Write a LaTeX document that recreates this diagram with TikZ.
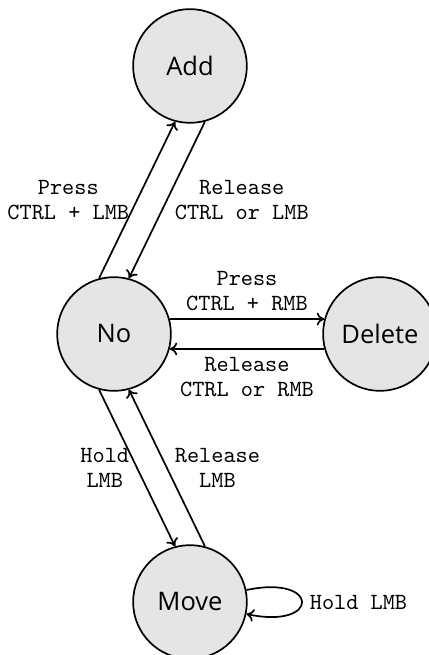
\documentclass[tikz,border=0pt]{standalone}
\usepackage{fontspec}
\usetikzlibrary{arrows.meta}
\newfontfamily\statefont{Open Sans}
\begin{document}
\begin{tikzpicture}[state/.style={draw, thick, circle, fill=gray!20, minimum size=1.88cm, inner sep=0pt, font=\statefont\fontsize{12}{14}\selectfont},
    lbl/.style={font=\ttfamily\fontsize{10.9}{11.8}\selectfont, align=center}, >={To[length=3.5pt, width=6pt]}, ->, thick]
    \useasboundingbox (-1.885,-5.307) rectangle (5.191,5.522);
    % States
    \node[state] (no) at (0,0) {No};
    \node[state] (add) at (1.256,4.431) {Add};
    \node[state] (delete) at (4.397,0) {Delete};
    \node[state] (move) at (1.256,-4.431) {Move};
    % Transitions
    \draw (no.105) -- node[lbl, left] {Press\\CTRL + LMB} (add.-105);
    \draw (add.-75) -- node[lbl, right] {Release\\CTRL or LMB} (no.75);
    \draw (no.15) -- node[lbl, above] {Press\\CTRL + RMB} (delete.165);
    \draw (delete.-165) -- node[lbl, below] {Release\\CTRL or RMB} (no.-15);
    \draw (no.-105) -- node[lbl, left] {Hold\\LMB} (move.105);
    \draw (move.75) -- node[lbl, right] {Release\\LMB} (no.-75);
    \draw (move) to[loop right, out=12, in=-12, min distance=1.25cm] node[lbl, right] {Hold LMB} (move);
\end{tikzpicture}
\end{document}
